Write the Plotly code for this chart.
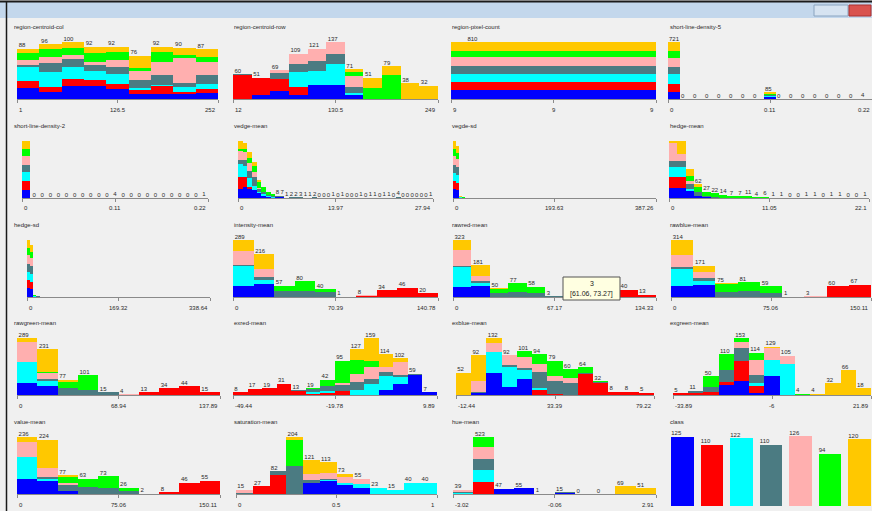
import plotly.graph_objects as go

# ---------------- DATA ----------------
CLASS_NAMES = ["brickface", "sky", "foliage", "cement", "window", "path", "grass"]
CLASS_COLORS = ["#0000ff", "#ff0000", "#00ffff", "#4b7b82", "#ffafaf", "#00ff00", "#ffc800"]

# each histogram: list of bins, each bin = counts per class [brickface, sky, foliage, cement, window, path, grass]
region_centroid_col_range = [1, 252]
region_centroid_col_ticks = ["1", "126.5", "252"]
region_centroid_col = [
    [20, 12, 24, 3, 9, 12, 8], [13, 8, 27, 15, 11, 13, 9], [23, 12, 22, 13, 8, 12, 10],
    [23, 10, 17, 9, 6, 15, 12], [17, 10, 17, 12, 12, 15, 9], [9, 7, 3, 15, 15, 6, 21],
    [9, 13, 3, 17, 23, 17, 10], [8, 4, 9, 7, 44, 6, 12], [10, 7, 10, 15, 23, 9, 13],
]

region_centroid_row_range = [12, 249]
region_centroid_row_ticks = ["12", "130.5", "249"]
region_centroid_row = [
    [0, 57, 0, 3, 0, 0, 0], [10, 41, 0, 0, 0, 0, 0], [19, 29, 0, 15, 6, 0, 0],
    [10, 20, 34, 20, 25, 0, 0], [33, 0, 35, 24, 29, 0, 0], [33, 0, 51, 25, 28, 0, 0],
    [10, 0, 5, 13, 28, 8, 7], [0, 0, 0, 0, 0, 27, 24], [0, 0, 0, 0, 0, 57, 22],
    [0, 0, 0, 0, 0, 0, 38], [0, 0, 0, 0, 0, 0, 32],
]

region_pixel_count_range = [0, 1]
region_pixel_count_ticks = ["9", "9", "9"]
region_pixel_count = [[125, 110, 122, 110, 126, 94, 123]]

short_line_density_5_range = [0, 0.22]
short_line_density_5_ticks = ["0", "0.11", "0.22"]
short_line_density_5 = [
    [93, 100, 117, 93, 121, 82, 115],
    [0, 0, 0, 0, 0, 0, 0], [0, 0, 0, 0, 0, 0, 0], [0, 0, 0, 0, 0, 0, 0], [0, 0, 0, 0, 0, 0, 0],
    [0, 0, 0, 0, 0, 0, 0], [0, 0, 0, 0, 0, 0, 0], [0, 0, 0, 0, 0, 0, 0],
    [28, 0, 5, 20, 2, 12, 18],
    [0, 0, 0, 0, 0, 0, 0], [0, 0, 0, 0, 0, 0, 0], [0, 0, 0, 0, 0, 0, 0], [0, 0, 0, 0, 0, 0, 0],
    [0, 0, 0, 0, 0, 0, 0], [0, 0, 0, 0, 0, 0, 0], [0, 0, 0, 0, 0, 0, 0],
    [2, 0, 0, 2, 0, 0, 0],
]

short_line_density_2_range = [0, 0.22]
short_line_density_2_ticks = ["0", "0.11", "0.22"]
short_line_density_2 = [
    [115, 124, 129, 101, 129, 92, 115],
    [0, 0, 0, 0, 0, 0, 0], [0, 0, 0, 0, 0, 0, 0], [0, 0, 0, 0, 0, 0, 0], [0, 0, 0, 0, 0, 0, 0],
    [0, 0, 0, 0, 0, 0, 0], [0, 0, 0, 0, 0, 0, 0], [0, 0, 0, 0, 0, 0, 0], [0, 0, 0, 0, 0, 0, 0],
    [0, 0, 0, 0, 0, 0, 0], [0, 0, 0, 0, 0, 0, 0],
    [0, 0, 0, 2, 0, 2, 0],
    [0, 0, 0, 0, 0, 0, 0], [0, 0, 0, 0, 0, 0, 0], [0, 0, 0, 0, 0, 0, 0], [0, 0, 0, 0, 0, 0, 0],
    [0, 0, 0, 0, 0, 0, 0], [0, 0, 0, 0, 0, 0, 0], [0, 0, 0, 0, 0, 0, 0], [0, 0, 0, 0, 0, 0, 0],
    [0, 0, 0, 0, 0, 0, 0], [0, 0, 0, 0, 0, 0, 0],
    [1, 0, 0, 0, 0, 0, 0],
]

vedge_mean_range = [0, 27.94]
vedge_mean_ticks = ["0", "13.97", "27.94"]
vedge_mean = [
    [30, 40, 40, 15, 30, 5, 27], [35, 35, 35, 20, 25, 10, 22], [30, 5, 30, 25, 25, 15, 20],
    [25, 0, 15, 30, 15, 20, 13], [15, 0, 5, 10, 4, 20, 5], [8, 0, 5, 6, 0, 18, 0],
    [4, 0, 4, 3, 0, 10, 0], [0, 0, 3, 4, 0, 6, 0],
    [2, 0, 0, 6, 0, 0, 0], [2, 0, 0, 5, 0, 0, 0], [0, 0, 0, 1, 0, 0, 0], [0, 0, 0, 2, 0, 0, 0],
    [0, 0, 0, 2, 0, 0, 0], [0, 0, 0, 3, 0, 0, 0], [0, 0, 0, 1, 0, 0, 0], [0, 0, 0, 1, 0, 0, 0],
    [0, 0, 0, 2, 0, 0, 0], [0, 0, 0, 0, 0, 0, 0], [0, 0, 0, 0, 0, 0, 0], [0, 0, 0, 0, 0, 0, 0],
    [0, 0, 0, 1, 0, 0, 0], [0, 0, 0, 0, 0, 0, 0], [0, 0, 0, 1, 0, 0, 0], [0, 0, 0, 0, 0, 0, 0],
    [0, 0, 0, 0, 0, 0, 0], [0, 0, 0, 0, 0, 0, 0], [0, 0, 0, 1, 0, 0, 0], [0, 0, 0, 0, 0, 0, 0],
    [0, 0, 0, 1, 0, 0, 0], [0, 0, 0, 1, 0, 0, 0], [0, 0, 0, 0, 0, 0, 0], [0, 0, 0, 1, 0, 0, 0],
    [0, 0, 0, 1, 0, 0, 0], [0, 0, 0, 0, 0, 0, 0], [0, 0, 0, 4, 0, 0, 0], [0, 0, 0, 0, 0, 0, 0],
    [0, 0, 0, 0, 0, 0, 0], [0, 0, 0, 0, 0, 0, 0], [0, 0, 0, 0, 0, 0, 0], [0, 0, 0, 0, 0, 0, 0],
    [0, 0, 0, 0, 0, 0, 0], [0, 0, 0, 1, 0, 0, 0],
]

vegde_sd_range = [0, 387.26]
vegde_sd_ticks = ["0", "193.63", "387.26"]
vegde_sd = [
    [62, 55, 61, 55, 63, 47, 60], [58, 50, 58, 50, 58, 42, 55], [3, 0, 2, 3, 0, 2, 2],
    [0, 0, 1, 2, 0, 1, 0], [0, 0, 0, 1, 0, 0, 1],
] + [[0, 0, 0, 0, 0, 0, 0]] * 60

hedge_mean_range = [0, 22.1]
hedge_mean_ticks = ["0", "11.05", "22.1"]
hedge_mean = [
    [44, 51, 44, 29, 80, 0, 8], [44, 51, 44, 29, 30, 0, 58], [30, 0, 10, 25, 10, 26, 30],
    [10, 0, 0, 15, 0, 25, 12], [3, 0, 0, 4, 0, 20, 0], [0, 0, 0, 4, 0, 18, 0],
    [0, 0, 0, 2, 0, 12, 0], [0, 0, 0, 0, 0, 7, 0], [0, 0, 0, 0, 0, 7, 0],
    [0, 0, 0, 0, 0, 11, 0], [0, 0, 0, 0, 0, 4, 0], [0, 0, 0, 0, 0, 6, 0],
    [0, 0, 0, 0, 0, 1, 0], [0, 0, 0, 0, 0, 1, 0], [0, 0, 0, 0, 0, 0, 0], [0, 0, 0, 0, 0, 0, 0],
    [0, 0, 0, 0, 0, 1, 0], [0, 0, 0, 0, 0, 1, 0], [0, 0, 0, 0, 0, 0, 0], [0, 0, 0, 0, 0, 1, 0],
    [0, 0, 0, 0, 0, 1, 0], [0, 0, 0, 0, 0, 0, 0], [0, 0, 0, 0, 0, 0, 0], [0, 0, 0, 0, 0, 1, 0],
]

hedge_sd_range = [0, 338.64]
hedge_sd_ticks = ["0", "169.32", "338.64"]
hedge_sd = [
    [62, 55, 61, 55, 63, 47, 60], [58, 50, 58, 50, 58, 42, 55], [2, 0, 2, 3, 2, 2, 1],
    [1, 0, 1, 2, 0, 1, 0], [0, 0, 0, 1, 0, 1, 0],
] + [[0, 0, 0, 0, 0, 0, 0]] * 53

intensity_mean_range = [0, 140.78]
intensity_mean_ticks = ["0", "70.39", "140.78"]
intensity_mean = [
    [55, 0, 103, 2, 74, 0, 55], [67, 0, 20, 13, 42, 0, 74], [0, 0, 0, 28, 0, 27, 2],
    [0, 0, 0, 28, 0, 52, 0], [0, 0, 0, 24, 0, 16, 0], [0, 0, 0, 1, 0, 0, 0],
    [0, 4, 0, 0, 4, 0, 0], [0, 34, 0, 0, 0, 0, 0], [0, 46, 0, 0, 0, 0, 0], [0, 20, 0, 0, 0, 0, 0],
]

rawred_mean_range = [0, 134.33]
rawred_mean_ticks = ["0", "67.17", "134.33"]
rawred_mean = [
    [54, 0, 115, 6, 90, 0, 58], [63, 0, 19, 10, 29, 0, 60], [0, 0, 0, 22, 0, 25, 3],
    [0, 0, 0, 29, 0, 48, 0], [0, 0, 0, 21, 0, 37, 0], [0, 0, 0, 3, 0, 0, 0],
    [0, 0, 0, 0, 2, 0, 0], [0, 4, 0, 0, 4, 0, 0], [0, 45, 0, 0, 0, 0, 0],
    [0, 40, 0, 0, 0, 0, 0], [0, 13, 0, 0, 0, 0, 0],
]
rawred_tooltip = ["3", "[61.06, 73.27]"]
rawred_bins_under_tooltip = [6, 7, 8]

rawblue_mean_range = [0, 150.11]
rawblue_mean_ticks = ["0", "75.06", "150.11"]
rawblue_mean = [
    [58, 0, 97, 9, 65, 0, 85], [65, 0, 24, 13, 34, 0, 35], [0, 0, 0, 28, 2, 40, 5],
    [0, 0, 0, 34, 0, 47, 0], [0, 0, 0, 20, 0, 39, 0], [0, 0, 0, 1, 0, 0, 0],
    [0, 0, 0, 0, 3, 0, 0], [0, 60, 0, 0, 0, 0, 0], [0, 67, 0, 0, 0, 0, 0],
]

rawgreen_mean_range = [0, 137.89]
rawgreen_mean_ticks = ["0", "68.94", "137.89"]
rawgreen_mean = [
    [61, 0, 107, 0, 99, 0, 22], [46, 0, 25, 10, 30, 8, 112], [0, 0, 0, 35, 0, 32, 10],
    [0, 0, 0, 25, 0, 76, 0], [0, 0, 0, 15, 0, 0, 0], [0, 0, 0, 2, 2, 0, 0],
    [0, 13, 0, 0, 0, 0, 0], [0, 34, 0, 0, 0, 0, 0], [0, 44, 0, 0, 0, 0, 0], [0, 15, 0, 0, 0, 0, 0],
]

exred_mean_range = [-49.44, 9.89]
exred_mean_ticks = ["-49.44", "-19.78", "9.89"]
exred_mean = [
    [0, 8, 0, 0, 0, 0, 0], [0, 17, 0, 0, 0, 0, 0], [0, 19, 0, 0, 0, 0, 0], [0, 31, 0, 0, 0, 0, 0],
    [0, 10, 0, 3, 0, 0, 0], [0, 4, 3, 9, 0, 3, 0], [0, 5, 5, 15, 0, 17, 0],
    [0, 10, 0, 18, 5, 62, 0], [0, 0, 14, 22, 22, 41, 28], [0, 0, 32, 14, 32, 18, 63],
    [14, 0, 40, 10, 15, 0, 35], [32, 0, 19, 5, 37, 0, 9], [56, 0, 0, 3, 0, 0, 0], [7, 0, 0, 0, 0, 0, 0],
]

exblue_mean_range = [-12.44, 79.22]
exblue_mean_ticks = ["-12.44", "33.39", "79.22"]
exblue_mean = [
    [0, 0, 0, 0, 0, 0, 52], [5, 0, 0, 3, 24, 0, 60], [50, 0, 50, 0, 20, 0, 12],
    [19, 0, 46, 4, 23, 0, 0], [38, 0, 19, 6, 26, 12, 0], [0, 11, 5, 37, 19, 22, 0],
    [0, 3, 0, 30, 12, 34, 0], [0, 0, 0, 27, 12, 21, 0], [0, 48, 0, 4, 0, 12, 0],
    [0, 27, 0, 3, 0, 2, 0], [0, 8, 0, 0, 0, 0, 0], [0, 8, 0, 0, 0, 0, 0], [0, 5, 0, 0, 0, 0, 0],
]

exgreen_mean_range = [-33.89, 21.89]
exgreen_mean_ticks = ["-33.89", "-6", "21.89"]
exgreen_mean = [
    [0, 5, 0, 0, 0, 0, 0], [0, 5, 0, 6, 0, 0, 0], [0, 8, 0, 14, 0, 28, 0],
    [27, 7, 0, 34, 0, 42, 0], [38, 53, 0, 36, 14, 12, 0], [5, 18, 8, 22, 41, 20, 0],
    [50, 0, 45, 0, 32, 0, 2], [0, 0, 82, 0, 23, 0, 0], [0, 0, 0, 0, 0, 2, 2],
    [0, 0, 0, 0, 0, 0, 4], [0, 0, 0, 0, 0, 0, 32], [0, 0, 0, 0, 0, 0, 66], [0, 0, 0, 0, 0, 0, 18],
]

value_mean_range = [0, 150.11]
value_mean_ticks = ["0", "75.06", "150.11"]
value_mean = [
    [61, 0, 93, 0, 62, 0, 20], [53, 0, 8, 8, 40, 0, 115], [12, 0, 0, 25, 10, 22, 8],
    [0, 0, 0, 30, 0, 33, 0], [0, 0, 0, 24, 0, 49, 0], [0, 0, 0, 12, 0, 14, 0],
    [0, 0, 0, 2, 0, 0, 0], [0, 8, 0, 0, 0, 0, 0], [0, 46, 0, 0, 0, 0, 0], [0, 55, 0, 0, 0, 0, 0],
]

saturation_mean_range = [0, 1]
saturation_mean_ticks = ["0", "0.5", "1"]
saturation_mean = [
    [0, 0, 0, 5, 10, 0, 0], [0, 27, 0, 0, 0, 0, 0], [0, 67, 0, 15, 0, 0, 0],
    [0, 0, 0, 102, 0, 93, 9], [38, 0, 0, 12, 20, 0, 51], [46, 0, 3, 4, 22, 0, 38],
    [32, 0, 8, 0, 21, 0, 12], [20, 0, 17, 0, 15, 0, 3], [0, 0, 23, 0, 0, 0, 0],
    [0, 0, 15, 0, 0, 0, 0], [0, 0, 40, 0, 0, 0, 0], [0, 0, 38, 0, 2, 0, 0],
]

hue_mean_range = [-3.02, 2.91]
hue_mean_ticks = ["-3.02", "-0.06", "2.91"]
hue_mean = [
    [0, 0, 10, 10, 16, 3, 0], [0, 110, 112, 100, 110, 91, 0], [47, 0, 0, 0, 0, 0, 0],
    [55, 0, 0, 0, 0, 0, 0], [1, 0, 0, 0, 0, 0, 0], [12, 0, 0, 3, 0, 0, 0],
    [0, 0, 0, 0, 0, 0, 0], [0, 0, 0, 0, 0, 0, 0], [0, 0, 0, 0, 0, 0, 69], [0, 0, 0, 0, 0, 0, 51],
]

class_counts = [125, 110, 122, 110, 126, 94, 120]

PANELS = [
    ("region-centroid-col", region_centroid_col_range, region_centroid_col_ticks, region_centroid_col),
    ("region-centroid-row", region_centroid_row_range, region_centroid_row_ticks, region_centroid_row),
    ("region-pixel-count", region_pixel_count_range, region_pixel_count_ticks, region_pixel_count),
    ("short-line-density-5", short_line_density_5_range, short_line_density_5_ticks, short_line_density_5),
    ("short-line-density-2", short_line_density_2_range, short_line_density_2_ticks, short_line_density_2),
    ("vedge-mean", vedge_mean_range, vedge_mean_ticks, vedge_mean),
    ("vegde-sd", vegde_sd_range, vegde_sd_ticks, vegde_sd),
    ("hedge-mean", hedge_mean_range, hedge_mean_ticks, hedge_mean),
    ("hedge-sd", hedge_sd_range, hedge_sd_ticks, hedge_sd),
    ("intensity-mean", intensity_mean_range, intensity_mean_ticks, intensity_mean),
    ("rawred-mean", rawred_mean_range, rawred_mean_ticks, rawred_mean),
    ("rawblue-mean", rawblue_mean_range, rawblue_mean_ticks, rawblue_mean),
    ("rawgreen-mean", rawgreen_mean_range, rawgreen_mean_ticks, rawgreen_mean),
    ("exred-mean", exred_mean_range, exred_mean_ticks, exred_mean),
    ("exblue-mean", exblue_mean_range, exblue_mean_ticks, exblue_mean),
    ("exgreen-mean", exgreen_mean_range, exgreen_mean_ticks, exgreen_mean),
    ("value-mean", value_mean_range, value_mean_ticks, value_mean),
    ("saturation-mean", saturation_mean_range, saturation_mean_ticks, saturation_mean),
    ("hue-mean", hue_mean_range, hue_mean_ticks, hue_mean),
]
TOOLTIP_PANEL = "rawred-mean"

# ---------------- LAYOUT GEOMETRY (pixels) ----------------
W, H = 872, 511
ROW_AXIS_Y = [99, 198, 297, 395, 494]
BAR_MAX_H = 57
TITLE_X = [12, 232, 450, 668]
PANEL_X = [
    (17, 218), (233, 438), (451, 656), (668, 872),
    (22, 208), (238, 433), (453, 656), (669, 869),
    (27, 210), (233, 438), (453, 656), (671, 871),
    (17, 220), (233, 437), (456, 654), (673, 871),
    (17, 220), (236, 437), (453, 656),
]
FONT = "Liberation Sans, Arial, sans-serif"
TEXT_COLOR = "#2a2a2a"
AXIS_COLOR = "#8a8a8a"
CHAR_W = 3.3


def px(xp):
    return xp / W


def py(yp):
    return 1 - yp / H


fig = go.Figure()
layout = dict(annotations=[], shapes=[])

for i, (name, rng, ticks, bins) in enumerate(PANELS):
    n = i + 1
    r, c = divmod(i, 4)
    ay = ROW_AXIS_Y[r]
    x0, x1 = PANEL_X[i]
    lo, hi = rng
    nb = len(bins)
    bw = (hi - lo) / nb
    centers = [lo + (k + 0.5) * bw for k in range(nb)]
    totals = [sum(b) for b in bins]
    xa = "x" if n == 1 else f"x{n}"
    ya = "y" if n == 1 else f"y{n}"
    for ci in range(7):
        fig.add_trace(go.Bar(
            x=centers, y=[b[ci] for b in bins], width=[bw] * nb,
            marker=dict(color=CLASS_COLORS[ci], line=dict(width=0)),
            xaxis=xa, yaxis=ya, showlegend=False, hoverinfo="skip", name=CLASS_NAMES[ci],
        ))
    hidden = rawred_bins_under_tooltip if name == TOOLTIP_PANEL else []
    bin_px = (x1 - x0) / nb
    lx, ly, lt = [], [], []
    for k, t in enumerate(totals):
        s = str(t)
        if len(s) * CHAR_W <= bin_px and k not in hidden:
            lx.append(lo + k * bw + (bw * 0.08 if bin_px >= 12 else bw * 0.5))
            ly.append(t)
            lt.append(s)
    fig.add_trace(go.Scatter(
        x=lx, y=ly, text=lt, mode="text",
        textposition="top right" if bin_px >= 12 else "top center",
        textfont=dict(size=6, color=TEXT_COLOR, family=FONT),
        xaxis=xa, yaxis=ya, showlegend=False, hoverinfo="skip", cliponaxis=False,
    ))
    mid = (lo + hi) / 2
    layout["xaxis" if n == 1 else f"xaxis{n}"] = dict(
        domain=[px(x0), px(x1)], range=[lo, hi], anchor=ya,
        showline=True, linecolor=AXIS_COLOR, linewidth=1,
        ticks="outside", tickvals=[lo, mid, hi], ticklen=3, tickcolor=AXIS_COLOR, tickwidth=1,
        showticklabels=False, showgrid=False, zeroline=False, fixedrange=True,
    )
    layout["yaxis" if n == 1 else f"yaxis{n}"] = dict(
        domain=[py(ay), py(ay - BAR_MAX_H)], range=[0, max(totals)], anchor=xa,
        visible=False, fixedrange=True,
    )
    layout["annotations"].append(dict(
        text=name, xref="paper", yref="paper", x=px(TITLE_X[c]), y=py(ay - 72),
        xanchor="left", yanchor="middle", showarrow=False,
        font=dict(size=6, color=TEXT_COLOR, family=FONT),
    ))
    for val, txt, anc in zip([lo, mid, hi], ticks, ["left", "center", "right"]):
        layout["annotations"].append(dict(
            text=txt, xref=xa, yref="paper", x=val, y=py(ay + 10.5),
            xanchor=anc, yanchor="middle", showarrow=False,
            font=dict(size=6, color=TEXT_COLOR, family=FONT),
        ))

# class panel
n = len(PANELS) + 1
xa, ya = f"x{n}", f"y{n}"
for ci in range(7):
    fig.add_trace(go.Bar(
        x=[ci], y=[class_counts[ci]], width=[0.76],
        marker=dict(color=CLASS_COLORS[ci], line=dict(width=0)),
        xaxis=xa, yaxis=ya, showlegend=False, hoverinfo="skip", name=CLASS_NAMES[ci],
    ))
fig.add_trace(go.Scatter(
    x=[ci - 0.38 for ci in range(7)], y=class_counts, text=[str(v) for v in class_counts],
    mode="text", textposition="top right",
    textfont=dict(size=6, color=TEXT_COLOR, family=FONT),
    xaxis=xa, yaxis=ya, showlegend=False, hoverinfo="skip", cliponaxis=False,
))
layout[f"xaxis{n}"] = dict(domain=[px(671), px(871)], range=[-0.39, 6.39], anchor=ya,
                           visible=False, fixedrange=True)
layout[f"yaxis{n}"] = dict(domain=[py(506), py(436)], range=[0, max(class_counts)], anchor=xa,
                           visible=False, fixedrange=True)
layout["annotations"].append(dict(
    text="class", xref="paper", yref="paper", x=px(TITLE_X[3]), y=py(ROW_AXIS_Y[4] - 72),
    xanchor="left", yanchor="middle", showarrow=False,
    font=dict(size=6, color=TEXT_COLOR, family=FONT),
))

# tooltip over rawred-mean
layout["shapes"].append(dict(type="rect", xref="paper", yref="paper",
                             x0=px(563), x1=px(620), y0=py(300), y1=py(277),
                             fillcolor="#ffffe1", line=dict(color="#555555", width=1), layer="above"))
layout["annotations"].append(dict(text=rawred_tooltip[0], xref="paper", yref="paper",
                                  x=px(591.5), y=py(283), xanchor="center", yanchor="middle",
                                  showarrow=False,
                                  font=dict(size=7, color="#222222", family=FONT)))
layout["annotations"].append(dict(text=rawred_tooltip[1], xref="paper", yref="paper",
                                  x=px(591.5), y=py(294), xanchor="center", yanchor="middle",
                                  showarrow=False,
                                  font=dict(size=7, color="#222222", family=FONT)))

# window chrome
layout["shapes"] += [
    dict(type="rect", xref="paper", yref="paper", x0=0, x1=1, y0=py(18), y1=py(2),
         fillcolor="#c3d7ec", line=dict(width=0), layer="below"),
    dict(type="line", xref="paper", yref="paper", x0=0, x1=1, y0=py(1.5), y1=py(1.5),
         line=dict(color="#1a1a1a", width=2)),
    dict(type="line", xref="paper", yref="paper", x0=px(6.5), x1=px(6.5), y0=0, y1=py(1.5),
         line=dict(color="#1a1a1a", width=1.5)),
    dict(type="rect", xref="paper", yref="paper", x0=px(814), x1=px(848), y0=py(16), y1=py(5),
         fillcolor="#d6e3f1", line=dict(color="#8aa4c0", width=1)),
    dict(type="rect", xref="paper", yref="paper", x0=px(849), x1=px(871), y0=py(16), y1=py(5),
         fillcolor="#d9534f", line=dict(color="#a33", width=1)),
]

fig.update_layout(
    width=W, height=H, margin=dict(l=0, r=0, t=0, b=0),
    paper_bgcolor="#f0f0f0", plot_bgcolor="rgba(0,0,0,0)",
    barmode="stack", showlegend=False,
    **layout,
)
fig.write_html(
    "out.html",
    config={"displayModeBar": False, "staticPlot": True},
    post_script="document.body.style.margin='0';document.body.style.overflow='hidden';",
)
